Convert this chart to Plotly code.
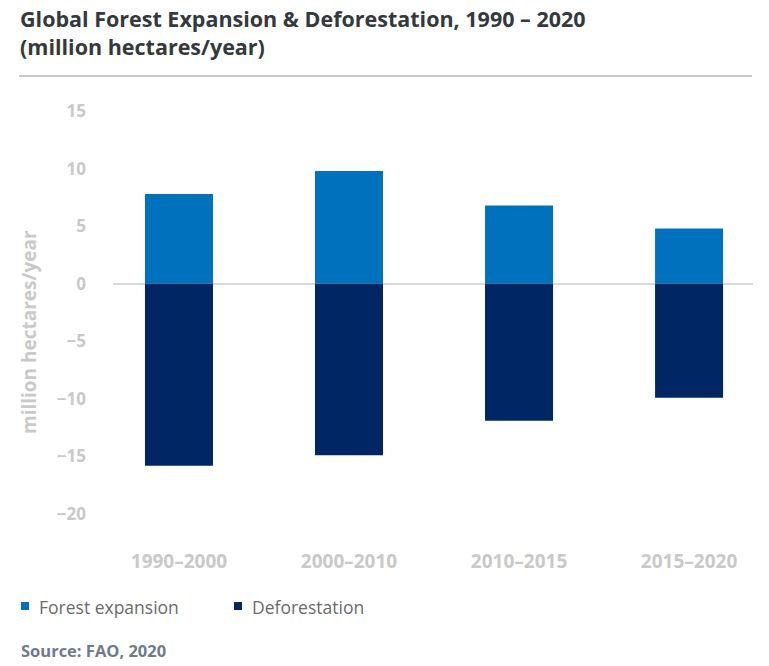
import plotly.graph_objects as go

categories = ["1990–2000", "2000–2010", "2010–2015", "2015–2020"]
expansion = [7.8, 9.8, 6.8, 4.8]
deforestation = [-15.8, -14.9, -11.9, -9.9]
y_ticks = [15, 10, 5, 0, -5, -10, -15, -20]
series_names = ["Forest expansion", "Deforestation"]
series_colors = ["#0071BC", "#002663"]

FONT = "Open Sans"
W, H = 769, 666
L, R, T, B = 113, 16, 100, 126
PW, PH = W - L - R, H - T - B


def px(x):
    return (x - L) / PW


def py(y):
    return (H - B - y) / PH


fig = go.Figure()
fig.add_trace(go.Bar(x=categories, y=expansion, name=series_names[0],
                     marker=dict(color=series_colors[0], line=dict(width=0)), width=0.4))
fig.add_trace(go.Bar(x=categories, y=deforestation, name=series_names[1],
                     marker=dict(color=series_colors[1], line=dict(width=0)), width=0.4))

shapes = [dict(type="line", xref="paper", yref="paper", x0=px(19), x1=px(752), y0=py(76), y1=py(76),
               line=dict(color="#b5b5b5", width=1.5))]
annotations = []
legend_x = [21, 234]
for name, color, lx in zip(series_names, series_colors, legend_x):
    shapes.append(dict(type="rect", xref="paper", yref="paper", x0=px(lx), x1=px(lx + 8),
                       y0=py(610), y1=py(602), fillcolor=color, line=dict(width=0)))
    annotations.append(dict(text=name, xref="paper", yref="paper", x=px(lx + 16), y=py(607),
                            xanchor="left", yanchor="middle", showarrow=False,
                            font=dict(size=17.5, color="#6a6a6a", family=FONT)))

annotations.append(dict(text="<b>Global Forest Expansion & Deforestation, 1990 – 2020<br>(million hectares/year)</b>",
                        xref="paper", yref="paper", x=px(18), y=py(33), xanchor="left", yanchor="middle",
                        align="left", showarrow=False,
                        font=dict(size=21.5, color="#34393d", family=FONT)))
annotations.append(dict(text="<b>Source: FAO, 2020</b>", xref="paper", yref="paper",
                        x=px(19), y=py(650), xanchor="left", yanchor="middle", showarrow=False,
                        font=dict(size=16.5, color="#6d7b8c", family=FONT)))
annotations.append(dict(text="<b>million hectares/year</b>", xref="paper", yref="paper",
                        x=px(29), y=py(332), xanchor="center", yanchor="middle", showarrow=False,
                        textangle=-90, font=dict(size=19, color="#c9c9c9", family=FONT)))

fig.update_layout(
    width=W, height=H,
    barmode="relative",
    plot_bgcolor="white", paper_bgcolor="white",
    margin=dict(l=L, r=R, t=T, b=B, autoexpand=False),
    font=dict(family=FONT),
    showlegend=False,
    xaxis=dict(range=[-0.388, 3.376], showgrid=False, showline=False, zeroline=False,
               automargin=False,
               tickfont=dict(size=19, color="#c9c9c9", family=FONT, weight="bold"),
               ticks="outside", ticklen=4, tickcolor="rgba(0,0,0,0)"),
    yaxis=dict(range=[-22.26, 15.96], tickvals=y_ticks, showgrid=False, zeroline=True,
               zerolinecolor="#d9d9d9", zerolinewidth=2, showline=False, automargin=False,
               tickfont=dict(size=17, color="#c9c9c9", family=FONT, weight="bold"),
               ticklabelstandoff=26),
    shapes=shapes,
    annotations=annotations,
)
fig.write_html("out.html")
